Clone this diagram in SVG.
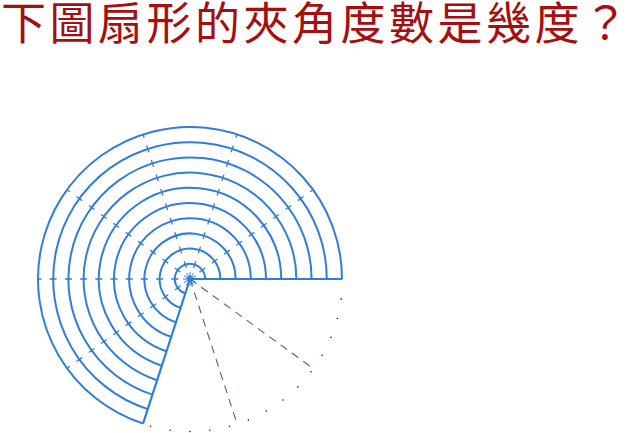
<svg xmlns="http://www.w3.org/2000/svg" width="639" height="433" viewBox="0 0 639 433">
<style>
.title{font-family:"Noto Sans CJK TC","Noto Sans CJK SC",sans-serif;font-size:45px;fill:#a50f0f;letter-spacing:3.5px}
.arc{fill:none;stroke:#2f7fd8;stroke-width:2}
.edge{fill:none;stroke:#2f7fd8;stroke-width:2.2}
.rad{fill:none;stroke:#2f7fd8;stroke-width:1.3;stroke-dasharray:7 8.2;stroke-dashoffset:3.5}
.rad2{fill:none;stroke:#3d6590;stroke-width:1.1;stroke-dasharray:8 6}
.star{fill:none;stroke:#2f7fd8;stroke-width:1}
.dot{fill:#222}
</style>
<rect width="639" height="433" fill="#ffffff"/>
<g id="title"><text class="title" x="1" y="40">下圖扇形的夾角度數是幾度？</text></g>
<g id="sector">
<path class="arc" d="M205.2,279A15.2,15.2 0 1 0 185.30,293.46"/>
<path class="arc" d="M220.4,279A30.4,30.4 0 1 0 180.61,307.91"/>
<path class="arc" d="M235.6,279A45.6,45.6 0 1 0 175.91,322.37"/>
<path class="arc" d="M250.8,279A60.8,60.8 0 1 0 171.21,336.82"/>
<path class="arc" d="M266,279A76,76 0 1 0 166.51,351.28"/>
<path class="arc" d="M281.2,279A91.2,91.2 0 1 0 161.82,365.74"/>
<path class="arc" d="M296.4,279A106.4,106.4 0 1 0 157.12,380.19"/>
<path class="arc" d="M311.6,279A121.6,121.6 0 1 0 152.42,394.65"/>
<path class="arc" d="M326.8,279A136.8,136.8 0 1 0 147.73,409.10"/>
<path class="arc" d="M342,279A152,152 0 1 0 143.03,423.56"/>
<path class="edge" d="M190,279H342M190,279L143.03,423.56"/>
</g>
<g id="connectors">
<path class="rad" d="M190,279L312.97,189.66"/>
<path class="rad" d="M190,279L236.97,134.44"/>
<path class="rad" d="M190,279L143.03,134.44"/>
<path class="rad" d="M190,279L67.03,189.66"/>
<path class="rad" d="M190,279L38,279"/>
<path class="rad" d="M190,279L67.03,368.34"/>
<path class="rad2" d="M190,279L236.97,423.56"/>
<path class="rad2" d="M190,279L312.97,368.34"/>
<path class="star" d="M183,279H197M183.94,275.5L196.06,282.5M186.5,272.94L193.5,285.06M190,272V286M193.5,272.94L186.5,285.06M196.06,275.5L183.94,282.5"/>
</g>
<g id="dots">
<circle class="dot" cx="341.19" cy="298.91" r="0.8"/>
<circle class="dot" cx="337.30" cy="318.47" r="0.8"/>
<circle class="dot" cx="330.89" cy="337.36" r="0.8"/>
<circle class="dot" cx="322.07" cy="355.25" r="0.8"/>
<circle class="dot" cx="310.99" cy="371.84" r="0.8"/>
<circle class="dot" cx="297.83" cy="386.83" r="0.8"/>
<circle class="dot" cx="282.84" cy="399.99" r="0.8"/>
<circle class="dot" cx="266.25" cy="411.07" r="0.8"/>
<circle class="dot" cx="248.36" cy="419.89" r="0.8"/>
<circle class="dot" cx="229.47" cy="426.30" r="0.8"/>
<circle class="dot" cx="209.91" cy="430.19" r="0.8"/>
<circle class="dot" cx="190" cy="431.5" r="0.8"/>
<circle class="dot" cx="170.09" cy="430.19" r="0.8"/>
<circle class="dot" cx="150.53" cy="426.30" r="0.8"/>
</g>
</svg>
